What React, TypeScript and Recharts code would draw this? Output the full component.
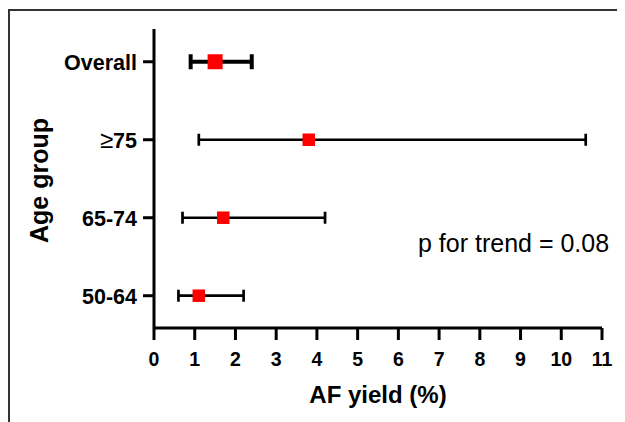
import React from 'react';
import { ScatterChart, Scatter, XAxis, YAxis, ErrorBar, Label } from 'recharts';

// ---- data ----
const categories = ['50-64', '65-74', '≥75', 'Overall'];
const estimates = [1.1, 1.7, 3.8, 1.5];
const lowerCI = [0.6, 0.7, 1.1, 0.9];
const upperCI = [2.2, 4.2, 10.6, 2.4];
const xTicks = [0, 1, 2, 3, 4, 5, 6, 7, 8, 9, 10, 11];
const yTicks = [0, 1, 2, 3];
const xTitle = 'AF yield (%)';
const yTitle = 'Age group';
const annotation = 'p for trend = 0.08';

const rows = categories.map((cat, i) => ({
  cat,
  y: i,
  x: estimates[i],
  err: [estimates[i] - lowerCI[i], upperCI[i] - estimates[i]],
}));
const groupRows = rows.filter((r) => r.cat !== 'Overall');
const overallRows = rows.filter((r) => r.cat === 'Overall');

const FONT = '"Liberation Sans", Arial, Helvetica, sans-serif';

const square = (s: number) => (props: any) => (
  <rect x={props.cx - s / 2} y={props.cy - s / 2} width={s} height={s} fill="#ff0000" />
);

const YTick = (props: any) => {
  const { x, y, payload } = props;
  const label = categories[payload?.value] ?? '';
  const parts = label.startsWith('≥') ? ['≥', label.slice(1)] : ['', label];
  return (
    <text
      x={x}
      y={y}
      dy="0.38em"
      textAnchor="end"
      fontFamily={FONT}
      fontSize={21.5}
      fontWeight={700}
      fill="#000"
    >
      {parts[0] ? (
        <tspan fontWeight={400} fontSize={24}>
          {parts[0]}
        </tspan>
      ) : null}
      <tspan>{parts[1]}</tspan>
    </text>
  );
};

const YTitle = (props: any) => {
  const vb = props.viewBox || { x: 0, y: 21, width: 146, height: 299 };
  const cx = vb.x + 40.3;
  const cy = vb.y + vb.height / 2 + 2;
  return (
    <text
      x={cx}
      y={cy}
      transform={`rotate(-90, ${cx}, ${cy})`}
      textAnchor="middle"
      fontFamily={FONT}
      fontWeight={700}
      fontSize={25}
      fill="#000"
    >
      {yTitle}
    </text>
  );
};

const XTitle = (props: any) => {
  const vb = props.viewBox || { x: 146, y: 320, width: 448, height: 94 };
  return (
    <text
      x={vb.x + vb.width / 2}
      y={vb.y + 74.5}
      textAnchor="middle"
      fontFamily={FONT}
      fontWeight={700}
      fontSize={24}
      fill="#000"
    >
      {xTitle}
    </text>
  );
};

export default function App() {
  return (
    <div style={{ position: 'relative', width: 617, height: 414, overflow: 'hidden', background: '#fff' }}>
      <div
        style={{
          position: 'absolute',
          left: 0,
          top: 1,
          right: 0,
          bottom: 0,
          borderLeft: '2px solid #333',
          borderTop: '2px solid #333',
        }}
      />
      <ScatterChart width={617} height={414} margin={{ top: 21, right: 23, bottom: 0, left: 0 }}>
        <XAxis
          type="number"
          dataKey="x"
          domain={[0, 11]}
          ticks={xTicks}
          interval={0}
          height={94}
          tickSize={12}
          tickMargin={12}
          axisLine={{ stroke: '#000', strokeWidth: 3 }}
          tickLine={{ stroke: '#000', strokeWidth: 3 }}
          tick={{ fill: '#000', fontSize: 19.5, fontWeight: 700, fontFamily: FONT }}
        >
          <Label content={<XTitle />} />
        </XAxis>
        <YAxis
          type="number"
          dataKey="y"
          domain={[-0.414, 3.42]}
          ticks={yTicks}
          interval={0}
          allowDataOverflow
          width={146}
          tickSize={11}
          tickMargin={6}
          axisLine={{ stroke: '#000', strokeWidth: 3 }}
          tickLine={{ stroke: '#000', strokeWidth: 3 }}
          tick={<YTick />}
        >
          <Label content={<YTitle />} />
        </YAxis>
        <Scatter data={groupRows} isAnimationActive={false} shape={square(12.5)}>
          <ErrorBar dataKey="err" direction="x" width={6} stroke="#000" strokeWidth={2.7} />
        </Scatter>
        <Scatter data={overallRows} isAnimationActive={false} shape={square(15)}>
          <ErrorBar dataKey="err" direction="x" width={7.5} stroke="#000" strokeWidth={4} />
        </Scatter>
      </ScatterChart>
      <div
        style={{
          position: 'absolute',
          left: 410,
          top: 223.3,
          fontFamily: FONT,
          fontSize: 25,
          lineHeight: 1,
          color: '#000',
          whiteSpace: 'nowrap',
        }}
      >
        {annotation}
      </div>
    </div>
  );
}
